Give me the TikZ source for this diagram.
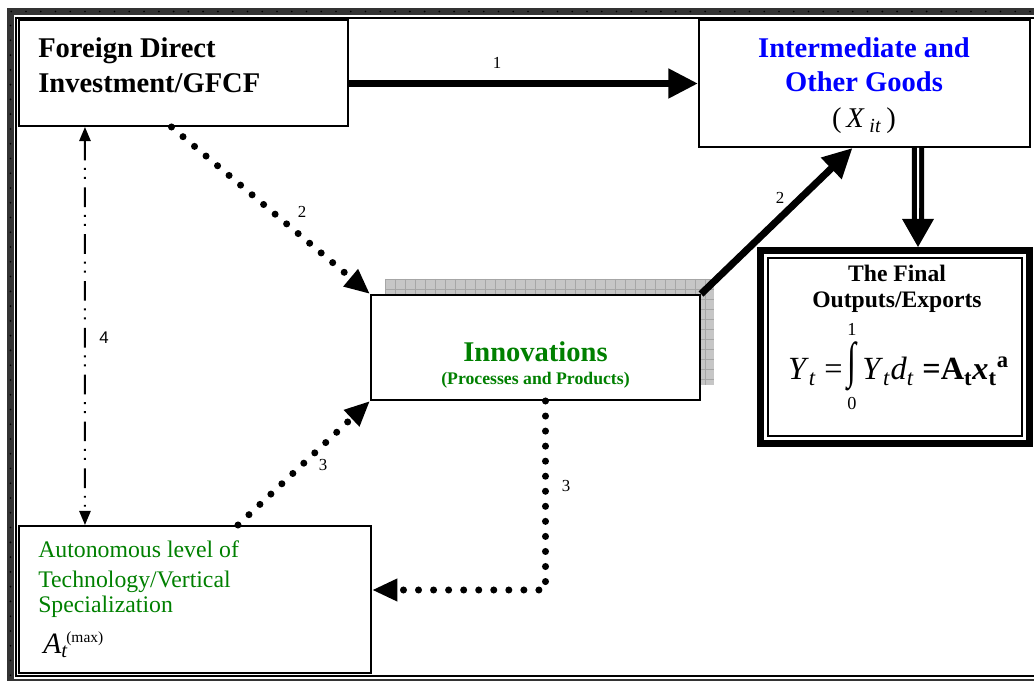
\documentclass[tikz,border=0pt]{standalone}
\usepackage{graphicx}
\usepackage{fontspec}
\setmainfont{Liberation Serif}
\newfontfamily\numsans{Liberation Sans}
\usetikzlibrary{arrows.meta}
\definecolor{innogreen}{RGB}{0,128,0}
\definecolor{goodsblue}{RGB}{0,0,255}
\begin{document}
\begin{tikzpicture}[x=0.025cm, y=-0.025cm]
	\tikzstyle{Box} = [rectangle, draw, line width=1.4pt, fill=white, inner sep=0pt]
	\tikzstyle{Big} = [font=\fontsize{20.3}{24}\selectfont\bfseries, inner sep=0pt]
	\tikzstyle{Small} = [font=\fontsize{16.9}{20}\selectfont, inner sep=0pt]
	\tikzstyle{Eq} = [font=\fontsize{23}{26}\selectfont, inner sep=0pt]
	\tikzstyle{Num} = [font=\fontsize{12}{14}\selectfont, inner sep=0pt]
	\tikzstyle{Heavy} = [line width=5pt, -{Triangle[length=21pt, width=20pt]}]
	\tikzstyle{Dots} = [line width=5pt, line cap=round, dash pattern=on 0pt off 10.7pt, -{Triangle[length=18pt, width=15pt]}]
	\tikzstyle{DashDot} = [line width=1.4pt, dash pattern=on 14pt off 5.5pt on 1.4pt off 5pt on 1.4pt off 6pt, {Triangle[length=10pt, width=8pt]}-{Triangle[length=10pt, width=8pt]}]
	\useasboundingbox (0,0) rectangle (1034,681);
	% page frame
	\fill[black!80] (7,8) rectangle (1060,690);
	\fill[white] (14,15) rectangle (1053,679);
	\draw[line width=1.4pt] (16,18) rectangle (1050,676);
	\draw[line width=1.3pt, line cap=round, dash pattern=on 0pt off 10.5pt] (10.5,690) -- (10.5,11.5) -- (1060,11.5);
	% shaded backing of the innovations box
	\fill[gray!45] (385,279) rectangle (714,385);
	\foreach \gx in {385,395,...,714} \draw[gray!70, line width=0.4pt] (\gx,279) -- (\gx,385);
	\foreach \gy in {279,289,...,385} \draw[gray!70, line width=0.4pt] (385,\gy) -- (714,\gy);
	% boxes
	\node (fdi) at (183.5,73) [Box, minimum width=8.225cm, minimum height=2.65cm] {};
	\node (inter) at (864.5,83.5) [Box, minimum width=8.275cm, minimum height=3.175cm] {};
	\node (innov) at (535.5,347.5) [Box, minimum width=8.225cm, minimum height=2.625cm] {};
	\node (auto) at (195,599.5) [Box, minimum width=8.8cm, minimum height=3.675cm] {};
	\node (fin) at (895,347) [Box, line width=5pt, minimum width=6.725cm, minimum height=4.825cm] {};
	\draw[line width=1.4pt] ([shift={(11,11)}]fin.north west) rectangle ([shift={(-11,-11)}]fin.south east);
	% texts
	\node (fdi1) at (38,58) [Big, anchor=base west] {Foreign Direct};
	\node (fdi2) at (38,93) [Big, anchor=base west] {Investment/GFCF};
	\node (int1) at (864,58) [Big, anchor=base, text=goodsblue] {Intermediate and};
	\node (int2) at (864,92) [Big, anchor=base, text=goodsblue] {Other Goods};
	\node (int3) at (864,128) [anchor=base, inner sep=0pt, font=\fontsize{20.3}{24}\selectfont] {(\,\textit{X}\,\textsubscript{\textit{it}}\,)};
	\node (inn1) at (535.5,362) [Big, anchor=base, text=innogreen] {Innovations};
	\node (inn2) at (535.5,385) [anchor=base, inner sep=0pt, text=innogreen, font=\fontsize{12.6}{14}\selectfont\bfseries] {(Processes and Products)};
	\node (fin1) at (897,282) [anchor=base, inner sep=0pt, font=\fontsize{16.8}{19}\selectfont\bfseries] {The Final};
	\node (fin2) at (897,308) [anchor=base, inner sep=0pt, font=\fontsize{16.8}{19}\selectfont\bfseries] {Outputs/Exports};
	\node (eqa) at (843,380) [Eq, anchor=base east] {\textit{Y}\textsubscript{\textit{t}} =};
	\node (eqint) at (852,366) [Eq, anchor=center] {\scalebox{1}[1.55]{∫}};
	\node (eqtop) at (852,336) [Num, anchor=base, font=\fontsize{13}{15}\selectfont] {1};
	\node (eqbot) at (852,410) [Num, anchor=base, font=\fontsize{13}{15}\selectfont] {0};
	\node (eqb) at (862,380) [Eq, anchor=base west] {\textit{Y}\textsubscript{\textit{t}}\textit{d}\textsubscript{\textit{t}} \textbf{=A\textsubscript{t}\textit{x}\textsubscript{t}\textsuperscript{a}}};
	\node (aut1) at (38,558) [Small, anchor=base west, text=innogreen] {Autonomous level of};
	\node (aut2) at (38,587) [Small, anchor=base west, text=innogreen] {Technology/Vertical};
	\node (aut3) at (38,613) [Small, anchor=base west, text=innogreen] {Specialization};
	\node (aut4) at (43,653) [anchor=base west, inner sep=0pt, font=\fontsize{21}{24}\selectfont] {\textit{A}\rlap{\textsubscript{\textit{t}}}\,\textsuperscript{\fontsize{11}{12}\selectfont(max)}};
	% connectors
	\draw [Heavy] (fdi.east |- inter.west) to (inter.west);
	\draw [Heavy] (innov.north east) to ([xshift=-0.3cm]inter.south);
	\draw [Dots] ([xshift=-0.3cm]fdi.south) to (innov.north west);
	\draw [Dots] ([xshift=1.075cm]auto.north) to (innov.south west);
	\draw [Dots] ([xshift=0.25cm]innov.south) |- ([yshift=0.2375cm]auto.east);
	\draw [DashDot] ([xshift=-2.4625cm]fdi.south) to ([xshift=-2.75cm]auto.north);
	\draw [line width=3.6pt, double=white, double distance=1.4pt] ([xshift=1.3375cm]inter.south) to ([xshift=0.575cm, yshift=0.65cm]fin.north);
	\fill ([xshift=0.575cm]fin.north) -- ++(-16,-28) -- ++(32,0) -- cycle;
	% numbers
	\node (n1) at (497,63) [Num] {1};
	\node (n2) at (302,212) [Num] {2};
	\node (n2b) at (780,198) [Num] {2};
	\node (n3) at (323,465) [Num] {3};
	\node (n3b) at (566,486) [Num] {3};
	\node (n4) at (104,338) [Num, font=\fontsize{12}{14}\selectfont\numsans] {4};
\end{tikzpicture}
\end{document}
